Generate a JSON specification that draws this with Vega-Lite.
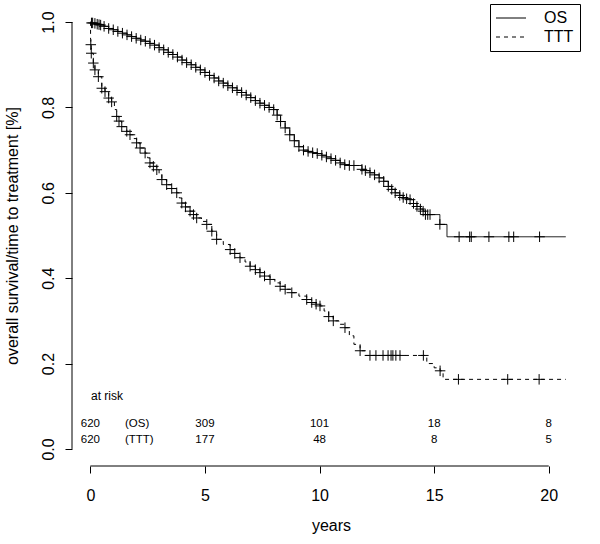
{
  "$schema": "https://vega.github.io/schema/vega-lite/v6.json",
  "autosize": "none",
  "width": 518,
  "height": 461,
  "padding": {"left": 72, "top": 5, "right": 10, "bottom": 78},
  "background": "white",
  "config": {
    "font": "Liberation Sans",
    "view": {"stroke": null},
    "axis": {"grid": false, "domain": false, "tickColor": "black", "tickSize": 7, "tickWidth": 1, "labelColor": "black", "titleColor": "black", "labelFontSize": 16, "titleFontSize": 16, "titleFontWeight": "normal"},
    "axisX": {"labelPadding": 14, "titleY": 59, "titleBaseline": "middle"},
    "axisY": {"format": ".1f", "labelAngle": -90, "labelAlign": "center", "labelBaseline": "bottom", "labelPadding": 9, "titleX": -60, "titleBaseline": "middle", "titleAngle": 270},
    "legend": {"labelFontSize": 16, "labelColor": "black"}
  },
  "datasets": {
    "km": [
      {"series": "OS", "t": 0, "s": 1.0, "c": 0},
      {"series": "OS", "t": 0.05, "s": 0.998, "c": 1},
      {"series": "OS", "t": 0.1, "s": 0.998, "c": 1},
      {"series": "OS", "t": 0.2, "s": 0.997, "c": 1},
      {"series": "OS", "t": 0.3, "s": 0.995, "c": 1},
      {"series": "OS", "t": 0.38, "s": 0.994, "c": 1},
      {"series": "OS", "t": 0.45, "s": 0.993, "c": 1},
      {"series": "OS", "t": 0.6, "s": 0.99, "c": 1},
      {"series": "OS", "t": 0.8, "s": 0.985, "c": 1},
      {"series": "OS", "t": 1.0, "s": 0.982, "c": 1},
      {"series": "OS", "t": 1.2, "s": 0.978, "c": 1},
      {"series": "OS", "t": 1.4, "s": 0.974, "c": 1},
      {"series": "OS", "t": 1.6, "s": 0.97, "c": 1},
      {"series": "OS", "t": 1.8, "s": 0.966, "c": 1},
      {"series": "OS", "t": 2.0, "s": 0.962, "c": 1},
      {"series": "OS", "t": 2.2, "s": 0.958, "c": 1},
      {"series": "OS", "t": 2.4, "s": 0.955, "c": 1},
      {"series": "OS", "t": 2.6, "s": 0.95, "c": 1},
      {"series": "OS", "t": 2.8, "s": 0.946, "c": 1},
      {"series": "OS", "t": 3.0, "s": 0.94, "c": 1},
      {"series": "OS", "t": 3.2, "s": 0.935, "c": 1},
      {"series": "OS", "t": 3.4, "s": 0.929, "c": 1},
      {"series": "OS", "t": 3.6, "s": 0.924, "c": 1},
      {"series": "OS", "t": 3.8, "s": 0.918, "c": 1},
      {"series": "OS", "t": 4.0, "s": 0.911, "c": 1},
      {"series": "OS", "t": 4.2, "s": 0.905, "c": 1},
      {"series": "OS", "t": 4.4, "s": 0.9, "c": 1},
      {"series": "OS", "t": 4.6, "s": 0.894, "c": 1},
      {"series": "OS", "t": 4.8, "s": 0.888, "c": 1},
      {"series": "OS", "t": 5.0, "s": 0.882, "c": 1},
      {"series": "OS", "t": 5.2, "s": 0.875, "c": 1},
      {"series": "OS", "t": 5.4, "s": 0.869, "c": 1},
      {"series": "OS", "t": 5.6, "s": 0.862, "c": 1},
      {"series": "OS", "t": 5.8, "s": 0.857, "c": 1},
      {"series": "OS", "t": 6.0, "s": 0.851, "c": 1},
      {"series": "OS", "t": 6.2, "s": 0.846, "c": 1},
      {"series": "OS", "t": 6.4, "s": 0.84, "c": 1},
      {"series": "OS", "t": 6.6, "s": 0.835, "c": 1},
      {"series": "OS", "t": 6.8, "s": 0.829, "c": 1},
      {"series": "OS", "t": 7.0, "s": 0.823, "c": 1},
      {"series": "OS", "t": 7.2, "s": 0.816, "c": 1},
      {"series": "OS", "t": 7.4, "s": 0.81, "c": 1},
      {"series": "OS", "t": 7.6, "s": 0.805, "c": 1},
      {"series": "OS", "t": 7.8, "s": 0.8, "c": 1},
      {"series": "OS", "t": 8.0, "s": 0.795, "c": 1},
      {"series": "OS", "t": 8.15, "s": 0.782, "c": 1},
      {"series": "OS", "t": 8.3, "s": 0.767, "c": 1},
      {"series": "OS", "t": 8.5, "s": 0.752, "c": 1},
      {"series": "OS", "t": 8.7, "s": 0.736, "c": 1},
      {"series": "OS", "t": 8.9, "s": 0.722, "c": 1},
      {"series": "OS", "t": 9.1, "s": 0.708, "c": 1},
      {"series": "OS", "t": 9.3, "s": 0.7, "c": 1},
      {"series": "OS", "t": 9.5, "s": 0.697, "c": 1},
      {"series": "OS", "t": 9.7, "s": 0.694, "c": 1},
      {"series": "OS", "t": 9.9, "s": 0.692, "c": 1},
      {"series": "OS", "t": 10.1, "s": 0.688, "c": 1},
      {"series": "OS", "t": 10.3, "s": 0.684, "c": 1},
      {"series": "OS", "t": 10.5, "s": 0.68, "c": 1},
      {"series": "OS", "t": 10.7, "s": 0.676, "c": 1},
      {"series": "OS", "t": 10.9, "s": 0.67, "c": 1},
      {"series": "OS", "t": 11.1, "s": 0.666, "c": 1},
      {"series": "OS", "t": 11.3, "s": 0.664, "c": 1},
      {"series": "OS", "t": 11.5, "s": 0.664, "c": 1},
      {"series": "OS", "t": 11.85, "s": 0.655, "c": 1},
      {"series": "OS", "t": 12.0, "s": 0.652, "c": 1},
      {"series": "OS", "t": 12.2, "s": 0.647, "c": 1},
      {"series": "OS", "t": 12.4, "s": 0.642, "c": 1},
      {"series": "OS", "t": 12.6, "s": 0.635, "c": 1},
      {"series": "OS", "t": 12.8, "s": 0.627, "c": 1},
      {"series": "OS", "t": 13.0, "s": 0.615, "c": 1},
      {"series": "OS", "t": 13.15, "s": 0.608, "c": 1},
      {"series": "OS", "t": 13.3, "s": 0.6, "c": 1},
      {"series": "OS", "t": 13.5, "s": 0.594, "c": 1},
      {"series": "OS", "t": 13.65, "s": 0.589, "c": 1},
      {"series": "OS", "t": 13.8, "s": 0.586, "c": 1},
      {"series": "OS", "t": 13.95, "s": 0.584, "c": 1},
      {"series": "OS", "t": 14.1, "s": 0.575, "c": 1},
      {"series": "OS", "t": 14.25, "s": 0.568, "c": 1},
      {"series": "OS", "t": 14.4, "s": 0.562, "c": 1},
      {"series": "OS", "t": 14.52, "s": 0.557, "c": 1},
      {"series": "OS", "t": 14.62, "s": 0.549, "c": 1},
      {"series": "OS", "t": 14.72, "s": 0.549, "c": 1},
      {"series": "OS", "t": 14.82, "s": 0.549, "c": 1},
      {"series": "OS", "t": 15.25, "s": 0.526, "c": 1},
      {"series": "OS", "t": 15.56, "s": 0.497, "c": 0},
      {"series": "OS", "t": 16.09, "s": 0.497, "c": 1},
      {"series": "OS", "t": 16.55, "s": 0.497, "c": 1},
      {"series": "OS", "t": 16.62, "s": 0.497, "c": 1},
      {"series": "OS", "t": 17.39, "s": 0.497, "c": 1},
      {"series": "OS", "t": 18.26, "s": 0.497, "c": 1},
      {"series": "OS", "t": 18.47, "s": 0.497, "c": 1},
      {"series": "OS", "t": 19.6, "s": 0.497, "c": 1},
      {"series": "OS", "t": 20.74, "s": 0.497, "c": 0},
      {"series": "TTT", "t": 0, "s": 1.0, "c": 0},
      {"series": "TTT", "t": 0.01, "s": 0.96, "c": 0},
      {"series": "TTT", "t": 0.02, "s": 0.947, "c": 1},
      {"series": "TTT", "t": 0.04, "s": 0.927, "c": 1},
      {"series": "TTT", "t": 0.13, "s": 0.904, "c": 1},
      {"series": "TTT", "t": 0.2, "s": 0.888, "c": 1},
      {"series": "TTT", "t": 0.35, "s": 0.872, "c": 1},
      {"series": "TTT", "t": 0.5, "s": 0.845, "c": 1},
      {"series": "TTT", "t": 0.64, "s": 0.837, "c": 1},
      {"series": "TTT", "t": 0.8, "s": 0.822, "c": 1},
      {"series": "TTT", "t": 0.93, "s": 0.813, "c": 1},
      {"series": "TTT", "t": 1.05, "s": 0.795, "c": 0},
      {"series": "TTT", "t": 1.15, "s": 0.779, "c": 1},
      {"series": "TTT", "t": 1.25, "s": 0.768, "c": 1},
      {"series": "TTT", "t": 1.37, "s": 0.755, "c": 1},
      {"series": "TTT", "t": 1.59, "s": 0.744, "c": 1},
      {"series": "TTT", "t": 1.73, "s": 0.736, "c": 1},
      {"series": "TTT", "t": 1.88, "s": 0.727, "c": 0},
      {"series": "TTT", "t": 2.02, "s": 0.717, "c": 1},
      {"series": "TTT", "t": 2.17, "s": 0.705, "c": 1},
      {"series": "TTT", "t": 2.39, "s": 0.693, "c": 1},
      {"series": "TTT", "t": 2.5, "s": 0.682, "c": 0},
      {"series": "TTT", "t": 2.6, "s": 0.67, "c": 1},
      {"series": "TTT", "t": 2.75, "s": 0.662, "c": 1},
      {"series": "TTT", "t": 2.9, "s": 0.654, "c": 1},
      {"series": "TTT", "t": 3.0, "s": 0.643, "c": 0},
      {"series": "TTT", "t": 3.12, "s": 0.631, "c": 1},
      {"series": "TTT", "t": 3.33, "s": 0.619, "c": 1},
      {"series": "TTT", "t": 3.55, "s": 0.61, "c": 1},
      {"series": "TTT", "t": 3.77, "s": 0.6, "c": 1},
      {"series": "TTT", "t": 3.88, "s": 0.588, "c": 0},
      {"series": "TTT", "t": 3.99, "s": 0.576, "c": 1},
      {"series": "TTT", "t": 4.15, "s": 0.567, "c": 1},
      {"series": "TTT", "t": 4.35, "s": 0.557, "c": 1},
      {"series": "TTT", "t": 4.5, "s": 0.549, "c": 1},
      {"series": "TTT", "t": 4.64, "s": 0.541, "c": 1},
      {"series": "TTT", "t": 4.85, "s": 0.533, "c": 0},
      {"series": "TTT", "t": 5.08, "s": 0.526, "c": 1},
      {"series": "TTT", "t": 5.3, "s": 0.51, "c": 1},
      {"series": "TTT", "t": 5.51, "s": 0.491, "c": 1},
      {"series": "TTT", "t": 5.8, "s": 0.479, "c": 0},
      {"series": "TTT", "t": 6.1, "s": 0.467, "c": 1},
      {"series": "TTT", "t": 6.3, "s": 0.458, "c": 1},
      {"series": "TTT", "t": 6.53, "s": 0.448, "c": 1},
      {"series": "TTT", "t": 6.75, "s": 0.438, "c": 0},
      {"series": "TTT", "t": 6.97, "s": 0.428, "c": 1},
      {"series": "TTT", "t": 7.2, "s": 0.42, "c": 1},
      {"series": "TTT", "t": 7.4, "s": 0.413, "c": 1},
      {"series": "TTT", "t": 7.6, "s": 0.405, "c": 1},
      {"series": "TTT", "t": 7.84, "s": 0.397, "c": 1},
      {"series": "TTT", "t": 8.05, "s": 0.389, "c": 0},
      {"series": "TTT", "t": 8.28, "s": 0.381, "c": 1},
      {"series": "TTT", "t": 8.5, "s": 0.374, "c": 1},
      {"series": "TTT", "t": 8.79, "s": 0.366, "c": 1},
      {"series": "TTT", "t": 9.1, "s": 0.358, "c": 0},
      {"series": "TTT", "t": 9.44, "s": 0.35, "c": 1},
      {"series": "TTT", "t": 9.66, "s": 0.343, "c": 1},
      {"series": "TTT", "t": 9.85, "s": 0.339, "c": 1},
      {"series": "TTT", "t": 10.02, "s": 0.335, "c": 1},
      {"series": "TTT", "t": 10.2, "s": 0.323, "c": 0},
      {"series": "TTT", "t": 10.4, "s": 0.31, "c": 1},
      {"series": "TTT", "t": 10.6, "s": 0.3, "c": 1},
      {"series": "TTT", "t": 10.85, "s": 0.292, "c": 0},
      {"series": "TTT", "t": 11.11, "s": 0.284, "c": 1},
      {"series": "TTT", "t": 11.3, "s": 0.265, "c": 0},
      {"series": "TTT", "t": 11.5, "s": 0.245, "c": 0},
      {"series": "TTT", "t": 11.77, "s": 0.23, "c": 1},
      {"series": "TTT", "t": 12.0, "s": 0.219, "c": 0},
      {"series": "TTT", "t": 12.2, "s": 0.219, "c": 1},
      {"series": "TTT", "t": 12.46, "s": 0.219, "c": 1},
      {"series": "TTT", "t": 12.77, "s": 0.219, "c": 1},
      {"series": "TTT", "t": 12.99, "s": 0.219, "c": 1},
      {"series": "TTT", "t": 13.12, "s": 0.219, "c": 1},
      {"series": "TTT", "t": 13.2, "s": 0.219, "c": 1},
      {"series": "TTT", "t": 13.33, "s": 0.219, "c": 1},
      {"series": "TTT", "t": 13.51, "s": 0.219, "c": 1},
      {"series": "TTT", "t": 14.53, "s": 0.219, "c": 1},
      {"series": "TTT", "t": 14.68, "s": 0.2, "c": 0},
      {"series": "TTT", "t": 15.0, "s": 0.19, "c": 0},
      {"series": "TTT", "t": 15.26, "s": 0.183, "c": 1},
      {"series": "TTT", "t": 15.39, "s": 0.163, "c": 0},
      {"series": "TTT", "t": 16.06, "s": 0.163, "c": 1},
      {"series": "TTT", "t": 18.21, "s": 0.163, "c": 1},
      {"series": "TTT", "t": 19.58, "s": 0.163, "c": 1},
      {"series": "TTT", "t": 20.74, "s": 0.163, "c": 0}
    ],
    "risk": [
      {"series": "OS", "t": 0, "n": "620"},
      {"series": "OS", "t": 5, "n": "309"},
      {"series": "OS", "t": 10, "n": "101"},
      {"series": "OS", "t": 15, "n": "18"},
      {"series": "OS", "t": 20, "n": "8"},
      {"series": "TTT", "t": 0, "n": "620"},
      {"series": "TTT", "t": 5, "n": "177"},
      {"series": "TTT", "t": 10, "n": "48"},
      {"series": "TTT", "t": 15, "n": "8"},
      {"series": "TTT", "t": 20, "n": "5"}
    ]
  },
  "layer": [
    {
      "data": {"name": "km"},
      "mark": {"type": "line", "interpolate": "step-after", "color": "black", "strokeWidth": 1},
      "encoding": {
        "x": {"field": "t", "type": "quantitative", "title": "years", "scale": {"domain": [-0.8, 21.8], "nice": false, "zero": false}, "axis": {"values": [0, 5, 10, 15, 20]}},
        "y": {"field": "s", "type": "quantitative", "title": "overall survival/time to treatment [%]", "scale": {"domain": [-0.04, 1.04], "nice": false, "zero": false}, "axis": {"values": [0, 0.2, 0.4, 0.6, 0.8, 1]}},
        "strokeDash": {"field": "series", "type": "nominal",
              "scale": {"domain": ["OS", "TTT"], "range": [[1, 0], [4, 4]]},
              "legend": {"title": null, "orient": "none", "legendX": 418, "legendY": -1, "strokeColor": "black", "fillColor": "white", "padding": 6, "symbolType": "M-1.6,0H4.4", "symbolSize": 100, "symbolStrokeColor": "black", "symbolStrokeWidth": 1, "labelOffset": 32, "rowPadding": 3}},
        "order": {"field": "t", "type": "quantitative"}
      }
    },
    {
      "data": {"values": [{}]},
      "mark": {"type": "rule", "color": "black", "strokeWidth": 1},
      "encoding": {
        "x": {"datum": -0.8, "type": "quantitative", "title": "years", "scale": {"domain": [-0.8, 21.8], "nice": false, "zero": false}, "axis": {"values": [0, 5, 10, 15, 20]}},
        "y": {"datum": 0, "type": "quantitative", "title": "overall survival/time to treatment [%]", "scale": {"domain": [-0.04, 1.04], "nice": false, "zero": false}, "axis": {"values": [0, 0.2, 0.4, 0.6, 0.8, 1]}},
        "y2": {"datum": 1}
      }
    },
    {
      "data": {"values": [{}]},
      "mark": {"type": "rule", "color": "black", "strokeWidth": 1},
      "encoding": {
        "x": {"datum": 0, "type": "quantitative", "title": "years", "scale": {"domain": [-0.8, 21.8], "nice": false, "zero": false}, "axis": {"values": [0, 5, 10, 15, 20]}},
        "x2": {"datum": 20},
        "y": {"datum": -0.04, "type": "quantitative", "title": "overall survival/time to treatment [%]", "scale": {"domain": [-0.04, 1.04], "nice": false, "zero": false}, "axis": {"values": [0, 0.2, 0.4, 0.6, 0.8, 1]}}
      }
    },
    {
      "data": {"name": "km"},
      "transform": [{"filter": "datum.c == 1"}],
      "mark": {"type": "point", "shape": "M-1,0H1M0,-1V1", "filled": false, "color": "black", "strokeWidth": 1, "size": 110, "opacity": 1},
      "encoding": {
        "x": {"field": "t", "type": "quantitative", "title": "years", "scale": {"domain": [-0.8, 21.8], "nice": false, "zero": false}, "axis": {"values": [0, 5, 10, 15, 20]}},
        "y": {"field": "s", "type": "quantitative", "title": "overall survival/time to treatment [%]", "scale": {"domain": [-0.04, 1.04], "nice": false, "zero": false}, "axis": {"values": [0, 0.2, 0.4, 0.6, 0.8, 1]}}
      }
    },
    {
      "data": {"values": [{"label": "at risk"}]},
      "mark": {"type": "text", "align": "left", "baseline": "middle", "fontSize": 12, "color": "black"},
      "encoding": {
        "x": {"datum": 0.03, "type": "quantitative", "title": "years", "scale": {"domain": [-0.8, 21.8], "nice": false, "zero": false}, "axis": {"values": [0, 5, 10, 15, 20]}},
        "y": {"datum": 0.124, "type": "quantitative", "title": "overall survival/time to treatment [%]", "scale": {"domain": [-0.04, 1.04], "nice": false, "zero": false}, "axis": {"values": [0, 0.2, 0.4, 0.6, 0.8, 1]}},
        "text": {"field": "label"}
      }
    },
    {
      "data": {"name": "risk"},
      "transform": [{"filter": "datum.series == 'OS'"}],
      "mark": {"type": "text", "align": "center", "baseline": "middle", "fontSize": 11.5, "color": "black"},
      "encoding": {
        "x": {"field": "t", "type": "quantitative", "title": "years", "scale": {"domain": [-0.8, 21.8], "nice": false, "zero": false}, "axis": {"values": [0, 5, 10, 15, 20]}},
        "y": {"datum": 0.058, "type": "quantitative", "title": "overall survival/time to treatment [%]", "scale": {"domain": [-0.04, 1.04], "nice": false, "zero": false}, "axis": {"values": [0, 0.2, 0.4, 0.6, 0.8, 1]}},
        "text": {"field": "n"}
      }
    },
    {
      "data": {"name": "risk"},
      "transform": [{"filter": "datum.series == 'TTT'"}],
      "mark": {"type": "text", "align": "center", "baseline": "middle", "fontSize": 11.5, "color": "black"},
      "encoding": {
        "x": {"field": "t", "type": "quantitative", "title": "years", "scale": {"domain": [-0.8, 21.8], "nice": false, "zero": false}, "axis": {"values": [0, 5, 10, 15, 20]}},
        "y": {"datum": 0.021, "type": "quantitative", "title": "overall survival/time to treatment [%]", "scale": {"domain": [-0.04, 1.04], "nice": false, "zero": false}, "axis": {"values": [0, 0.2, 0.4, 0.6, 0.8, 1]}},
        "text": {"field": "n"}
      }
    },
    {
      "data": {"values": [{"label": "(OS)"}]},
      "mark": {"type": "text", "align": "left", "baseline": "middle", "fontSize": 11.5, "color": "black"},
      "encoding": {
        "x": {"datum": 1.51, "type": "quantitative", "title": "years", "scale": {"domain": [-0.8, 21.8], "nice": false, "zero": false}, "axis": {"values": [0, 5, 10, 15, 20]}},
        "y": {"datum": 0.058, "type": "quantitative", "title": "overall survival/time to treatment [%]", "scale": {"domain": [-0.04, 1.04], "nice": false, "zero": false}, "axis": {"values": [0, 0.2, 0.4, 0.6, 0.8, 1]}},
        "text": {"field": "label"}
      }
    },
    {
      "data": {"values": [{"label": "(TTT)"}]},
      "mark": {"type": "text", "align": "left", "baseline": "middle", "fontSize": 11.5, "color": "black"},
      "encoding": {
        "x": {"datum": 1.51, "type": "quantitative", "title": "years", "scale": {"domain": [-0.8, 21.8], "nice": false, "zero": false}, "axis": {"values": [0, 5, 10, 15, 20]}},
        "y": {"datum": 0.021, "type": "quantitative", "title": "overall survival/time to treatment [%]", "scale": {"domain": [-0.04, 1.04], "nice": false, "zero": false}, "axis": {"values": [0, 0.2, 0.4, 0.6, 0.8, 1]}},
        "text": {"field": "label"}
      }
    }
  ]
}
